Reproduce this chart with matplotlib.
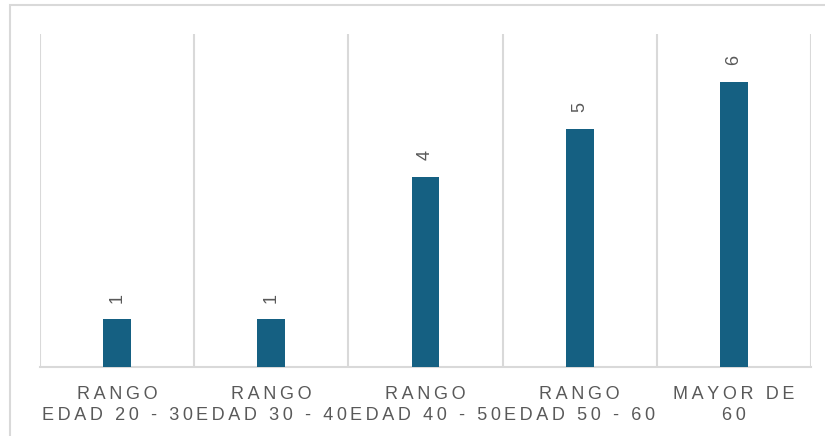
import matplotlib
matplotlib.use("Agg")
import matplotlib.pyplot as plt
import numpy as np

# Datos: número de personas por rango de edad
categorias = ["RANGO\nEDAD 20 - 30", "RANGO\nEDAD 30 - 40", "RANGO\nEDAD 40 - 50",
              "RANGO\nEDAD 50 - 60", "MAYOR DE\n60"]
valores = [1, 1, 4, 5, 6]

color_barra = "#156082"
color_texto = "#595959"
color_linea = "#D9D9D9"

plt.rcParams['font.family'] = ['Liberation Sans', 'DejaVu Sans']


def espaciar(texto):
    # separa las letras con un espacio fino (imita el espaciado de Excel)
    return "\n".join("\u2009".join(linea) for linea in texto.split("\n"))


fig = plt.figure(figsize=(8.25, 4.36), dpi=100)
ax = fig.add_axes([40/825, 1 - 367/436, 771/825, 333/436])

x = np.arange(len(categorias))
barras = ax.bar(x, valores, width=0.18, color=color_barra, zorder=3)

for xi, v in zip(x, valores):
    ax.annotate(str(v), (xi, v), xytext=(0, 12), textcoords="offset points",
                rotation=90, ha="center", va="bottom", fontsize=13,
                color=color_texto)

ax.set_xlim(-0.5, len(categorias) - 0.5)
ax.set_ylim(0, 7)

# líneas verticales entre categorías
for b in np.arange(-0.5, len(categorias), 1):
    ax.axvline(b, color=color_linea, lw=1.5, zorder=1)

ax.set_xticks(x)
ax.set_xticklabels([espaciar(c) for c in categorias], fontsize=13,
                   color=color_texto, linespacing=1.25)
ax.tick_params(axis="x", length=0, pad=14)
ax.set_yticks([])

for lado in ["top", "left", "right"]:
    ax.spines[lado].set_visible(False)
ax.spines["bottom"].set_color(color_linea)
ax.spines["bottom"].set_linewidth(1.5)

# marco exterior del gráfico
fig.add_artist(plt.Rectangle((10/825, -0.1), 1.0, 1 - 5/436 + 0.1,
                             transform=fig.transFigure, fill=False,
                             edgecolor=color_linea, lw=1.5))

fig.savefig("out.png", dpi=100)
